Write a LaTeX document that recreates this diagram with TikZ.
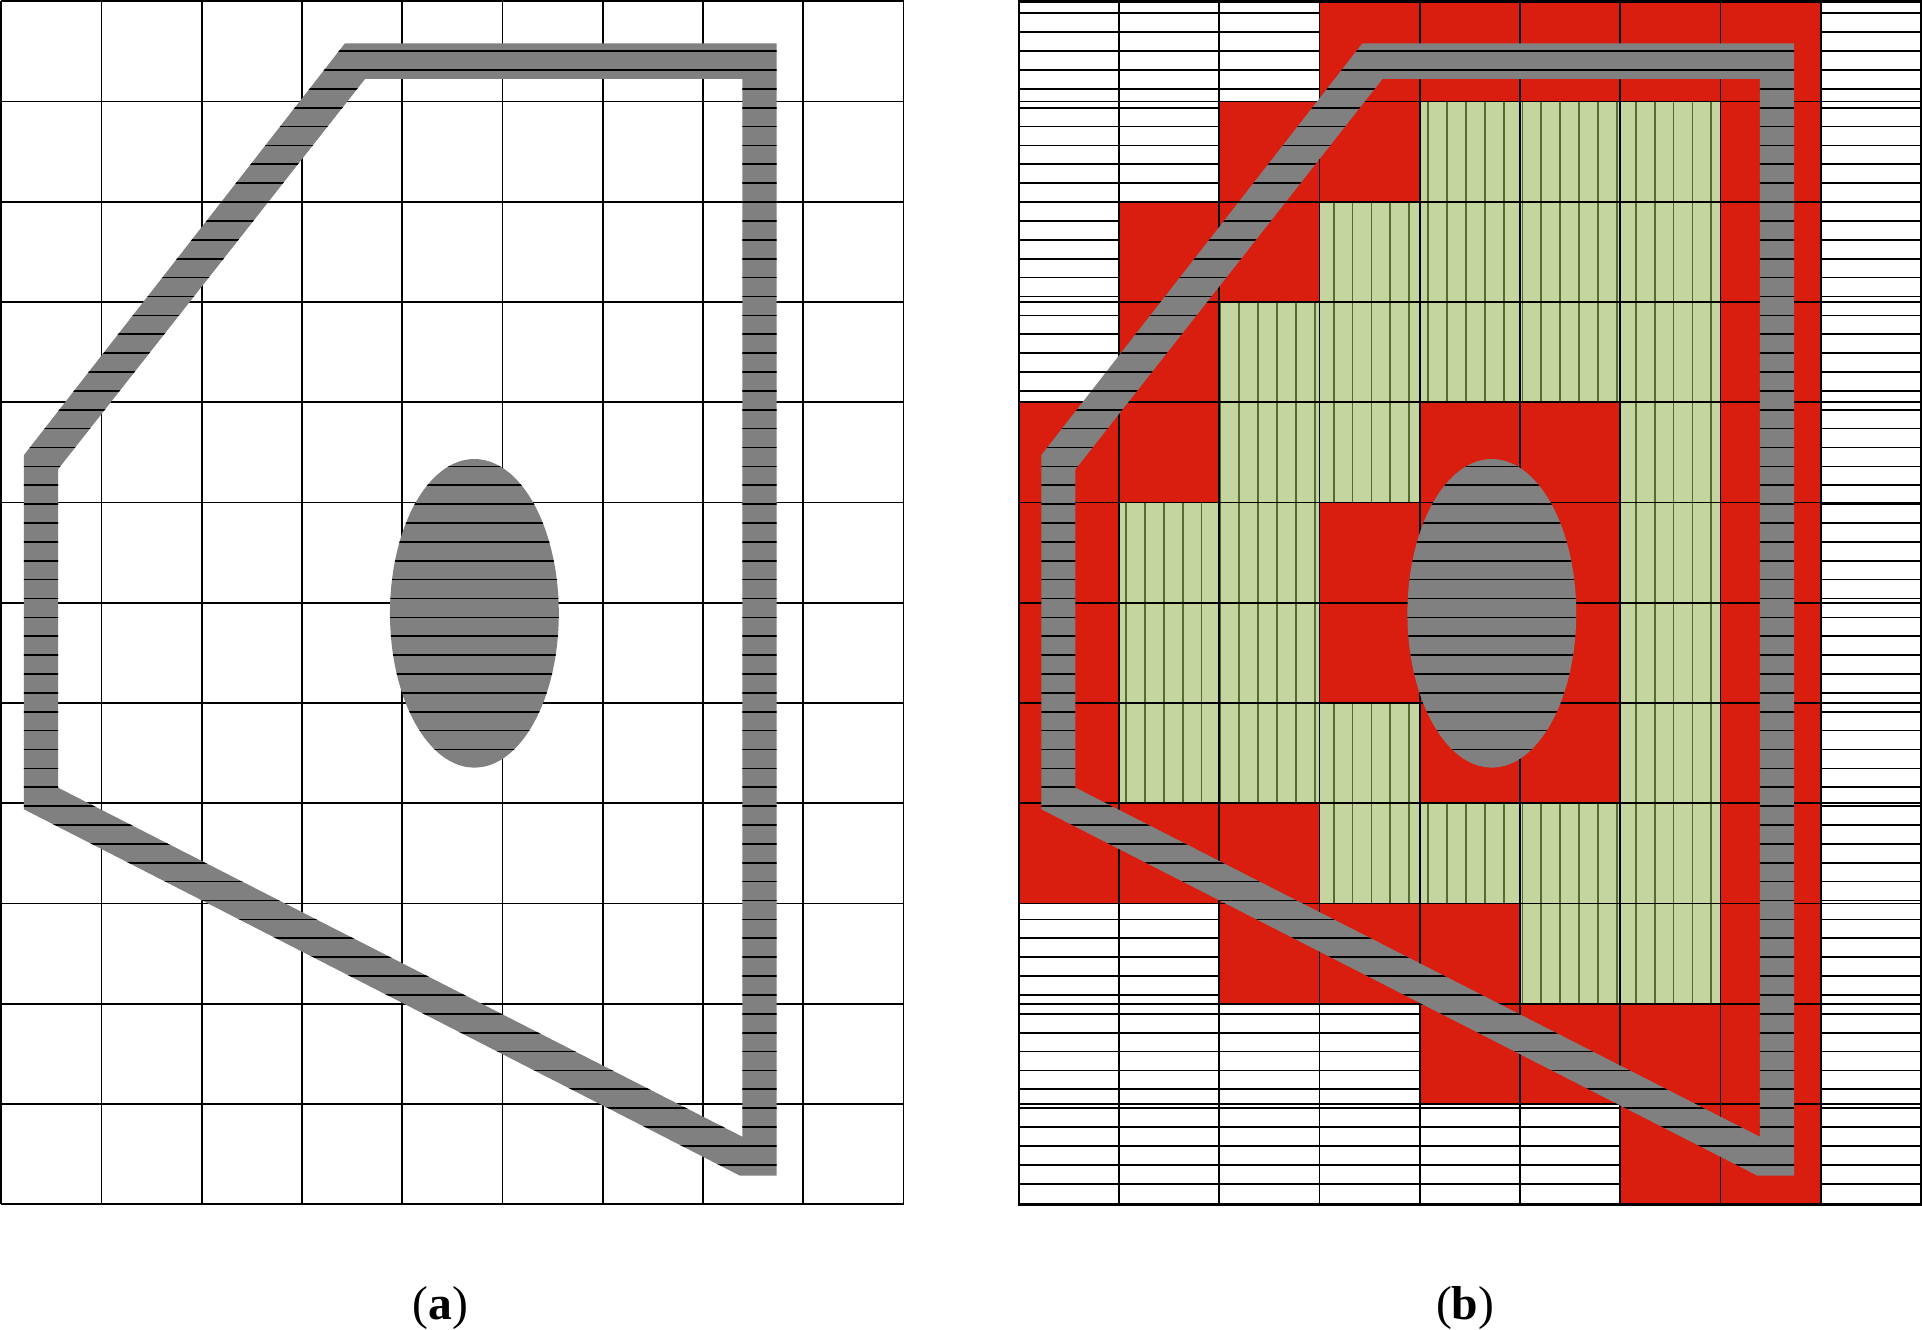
\documentclass[tikz,border=0pt]{standalone}
\usepackage{fontspec}
\setmainfont{Liberation Serif}
\definecolor{cellred}{RGB}{217,29,15}
\definecolor{cellgreen}{RGB}{196,213,159}
\definecolor{hatchgreen}{RGB}{85,107,47}
\definecolor{bandgray}{RGB}{128,128,128}
\tikzset{
  gridline/.style={draw=black,line width=0.5pt},
  stripe/.style={draw=black,line width=0.48pt},
  vstripe/.style={draw=hatchgreen,line width=0.5pt},
  panellabel/.style={font=\fontsize{13.5}{16}\selectfont,anchor=base,inner sep=0pt}
}
\newcommand{\drawsection}{%
  \fill[bandgray,even odd rule] (3.428,11.581) -- (7.735,11.581) -- (7.735,0.285) -- (7.369,0.285) -- (0.226,3.940) -- (0.226,7.474) -- cycle
 (3.628,11.225) -- (7.392,11.225) -- (7.392,0.674) -- (0.566,4.156) -- (0.566,7.332) -- cycle
 (4.719,5.895) ellipse [x radius=0.842,y radius=1.539];
  \begin{scope}[even odd rule]
    \clip (3.428,11.581) -- (7.735,11.581) -- (7.735,0.285) -- (7.369,0.285) -- (0.226,3.940) -- (0.226,7.474) -- cycle
 (3.628,11.225) -- (7.392,11.225) -- (7.392,0.674) -- (0.566,4.156) -- (0.566,7.332) -- cycle
 (4.719,5.895) ellipse [x radius=0.842,y radius=1.539];
    \foreach \k in {0,...,62} \draw[stripe] (0,{11.880-\k*0.1883}) -- (8,{11.880-\k*0.1883});
  \end{scope}
}
\begin{document}
\begin{tikzpicture}
\useasboundingbox (-0.013,-1.244) rectangle (19.159,12.013);
\fill[white] (-0.013,-1.244) rectangle (19.159,12.013);

% ---------- Panel (a)
\begin{scope}
  \draw[gridline] (0,0) grid (9,12);
  \drawsection
\end{scope}
\node[panellabel] (labela) at (4.381,-1.150) {(\textbf{a})};

% ---------- Panel (b)
\begin{scope}[xshift=10.149cm]
  \begin{scope}
    \clip (0,0) rectangle (9,12);
    \foreach \k in {0,...,62} \draw[stripe] (0,{11.880-\k*0.1883}) -- (9,{11.880-\k*0.1883});
  \end{scope}
  \fill[cellred] foreach \c/\r in {3/11,4/11,5/11,6/11,7/11,
     2/10,3/10,7/10, 1/9,2/9,7/9, 1/8,7/8, 0/7,1/7,4/7,5/7,7/7,
     0/6,3/6,4/6,5/6,7/6, 0/5,3/5,4/5,5/5,7/5, 0/4,4/4,5/4,7/4,
     0/3,1/3,2/3,7/3, 2/2,3/2,4/2,7/2, 4/1,5/1,6/1,7/1, 6/0,7/0}
     {(\c,\r) rectangle ++(1,1)};
  \fill[cellgreen] foreach \c/\r in {4/10,5/10,6/10, 3/9,4/9,5/9,6/9,
     2/8,3/8,4/8,5/8,6/8, 2/7,3/7,6/7, 1/6,2/6,6/6, 1/5,2/5,6/5,
     1/4,2/4,3/4,6/4, 3/3,4/3,5/3,6/3, 5/2,6/2}
     {(\c,\r) rectangle ++(1,1)};
  \begin{scope}
    \clip foreach \c/\r in {4/10,5/10,6/10, 3/9,4/9,5/9,6/9,
     2/8,3/8,4/8,5/8,6/8, 2/7,3/7,6/7, 1/6,2/6,6/6, 1/5,2/5,6/5,
     1/4,2/4,3/4,6/4, 3/3,4/3,5/3,6/3, 5/2,6/2}
     {(\c,\r) rectangle ++(1,1)};
    \foreach \k in {0,...,47} \draw[vstripe] ({0.1292+\k*0.1883},0) -- ({0.1292+\k*0.1883},12);
  \end{scope}
  \draw[gridline] (0,0) grid (9,12);
  \draw[line width=0.7pt] (0,0) rectangle (9,12);
  \drawsection
\end{scope}
\node[panellabel] (labelb) at (14.601,-1.150) {(\textbf{b})};
\end{tikzpicture}
\end{document}
